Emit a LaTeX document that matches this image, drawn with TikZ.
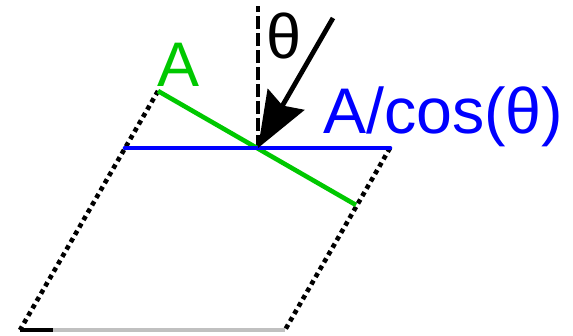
\documentclass[tikz,border=0pt]{standalone}
\usepackage{fontspec}
\setmainfont{Liberation Sans}
\usetikzlibrary{arrows.meta}
\definecolor{rgreen}{RGB}{0,200,0}
\definecolor{rblue}{RGB}{0,0,255}
\definecolor{rgray}{RGB}{192,192,192}
\begin{document}
\begin{tikzpicture}[x=1pt,y=-1pt,
  lbl/.style={inner sep=0pt, anchor=base west, font=\fontsize{63}{70}\selectfont},
  dotline/.style={line width=4.6pt, dash pattern=on 4.5pt off 4pt},
  thick4/.style={line width=4.6pt}]
\useasboundingbox (0,0) rectangle (573,335);
% points
\coordinate (C) at (258,148);
\coordinate (G1) at (158,91);
\coordinate (G2) at (356,205);
\coordinate (B1) at (125,148);
\coordinate (B2) at (390,148);
\coordinate (L) at (20,330);
\coordinate (K) at (53,330);
\coordinate (R) at (285,330);
\coordinate (T) at (258,6);
\coordinate (S) at (333,18);
% dotted sides
\draw[dotline] (G1) -- (L);
\draw[dotline] (B2) -- (R);
% bottom
\draw[line width=4.6pt, rgray] (K) -- (R);
\draw[line width=4.6pt, black] (L) -- (K);
% dashed normal
\draw[line width=3.6pt, dash pattern=on 13pt off 4pt] (C) -- (T);
% green and blue surfaces
\draw[thick4, rgreen] (G1) -- (G2);
\draw[thick4, rblue, line cap=round] (B1) -- (B2);
% incoming ray
\draw[line width=4.8pt, -{Stealth[length=56pt,width=42pt,inset=7pt]}] (S) -- (C);
% labels
\node[lbl, text=rgreen] (la) at (157,86) {A};
\node[lbl, text=rblue, font=\fontsize{64.5}{70}\selectfont] (lb) at (323,133) {A/cos(θ)};
\node[lbl] (lt) at (266,58) {θ};
\end{tikzpicture}
\end{document}
